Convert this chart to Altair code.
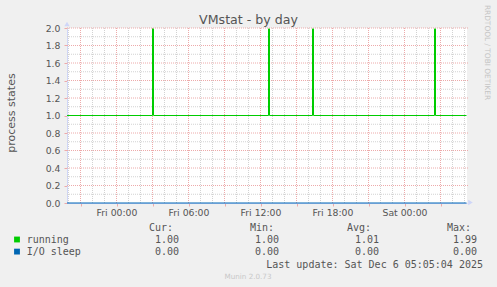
import altair as alt
import pandas as pd

# ---------------- data ----------------
# running processes: step series (value holds until the next time)
run_times = ["2025-12-04T19:52:30Z", "2025-12-05T03:00:00Z", "2025-12-05T03:05:00Z",
             "2025-12-05T12:40:00Z", "2025-12-05T12:45:00Z", "2025-12-05T16:20:00Z",
             "2025-12-05T16:25:00Z", "2025-12-06T02:30:00Z", "2025-12-06T02:35:00Z",
             "2025-12-06T05:10:00Z"]
run_values = [1.0, 1.99, 1.0, 1.99, 1.0, 1.99, 1.0, 1.99, 1.0, 1.0]
io_times = ["2025-12-04T19:52:30Z", "2025-12-06T05:10:00Z"]
io_values = [0.0, 0.0]

x_domain = ["2025-12-04T19:52:30Z", "2025-12-06T05:12:30Z"]
y_domain = [0.0, 2.0]
y_labels = [0.0, 0.2, 0.4, 0.6, 0.8, 1.0, 1.2, 1.4, 1.6, 1.8, 2.0]
y_major = [0.2, 0.4, 0.6, 0.8, 1.2, 1.4, 1.6, 1.8, 2.0]
y_minor = [0.1, 0.3, 0.5, 0.7, 0.9, 1.1, 1.3, 1.5, 1.7, 1.9]

legend_names = ["running", "I/O sleep"]
legend_colors = ["#00CC00", "#0066B3"]
cur_vals = ["1.00", "0.00"]
min_vals = ["1.00", "0.00"]
avg_vals = ["1.01", "0.00"]
max_vals = ["1.99", "0.00"]
headers = ["Cur:", "Min:", "Avg:", "Max:"]

title_text = "VMstat - by day"
y_title = "process states"
last_update = "Last update: Sat Dec  6 05:05:04 2025"
watermark = "RRDTOOL / TOBI OETIKER"
munin_text = "Munin 2.0.73"

# ---------------- helpers ----------------
def ms(t):
    return pd.Timestamp(t).value // 10**6

hours = pd.date_range("2025-12-04T20:00:00Z", "2025-12-06T05:00:00Z", freq="h")
x_major = [ms(h) for h in hours if h.hour % 3 == 0]
x_minor = [ms(h) for h in hours if h.hour % 3 != 0]

FONT = "#555555"
AXIS = "#CFD6F8"
MGRID = "#EDAAAA"
GRID = "#D2D2D2"
W, H = 400, 175

xscale = alt.Scale(type="utc", domain=[ms(t) for t in x_domain], nice=False)
yscale = alt.Scale(domain=y_domain, nice=False, zero=False)

x_axis = alt.Axis(
    values=x_major,
    labelExpr="utchours(datum.value) % 6 == 0 ? utcFormat(datum.value, '%a %H:%M') : ''",
    tickSize=3, tickColor=MGRID, domainColor=AXIS, labelFont="DejaVu Sans",
    labelFontSize=9.3, labelColor=FONT, labelPadding=2, grid=False, title=None,
    labelFlush=False, labelOverlap=False)
y_axis = alt.Axis(
    values=y_labels, format=".1f", tickSize=3, tickColor=MGRID, domainColor=AXIS,
    labelFont="DejaVu Sans", labelFontSize=9.3, labelColor=FONT, labelPadding=4,
    grid=False, title=None, labelOverlap=False, labelFlush=False)

dummy = pd.DataFrame({"d": [0]})


def txt(text, x, y, size=10, font="DejaVu Sans Mono", color=FONT, align="left",
        baseline="alphabetic", angle=0):
    kw = dict(text=text, fontSize=size, font=font, color=color, align=align,
              baseline=baseline)
    if angle:
        kw["angle"] = angle
    return alt.Chart(dummy).mark_text(**kw).encode(x=alt.value(x), y=alt.value(y))


layers = []

# grids
layers.append(alt.Chart(pd.DataFrame({"v": y_minor})).mark_rule(
    color=GRID, strokeWidth=1, strokeDash=[1, 1]).encode(
    y=alt.Y("v:Q", scale=yscale, axis=y_axis), x=alt.value(0), x2=alt.value(W)))
layers.append(alt.Chart(pd.DataFrame({"t": x_minor})).mark_rule(
    color=GRID, strokeWidth=1, strokeDash=[1, 1]).encode(
    x=alt.X("t:T", scale=xscale, axis=x_axis), y=alt.value(0), y2=alt.value(H)))
layers.append(alt.Chart(pd.DataFrame({"v": y_major})).mark_rule(
    color=MGRID, strokeWidth=1, strokeDash=[1, 1]).encode(
    y=alt.Y("v:Q", scale=yscale, axis=y_axis), x=alt.value(0), x2=alt.value(W + 2)))
layers.append(alt.Chart(pd.DataFrame({"t": x_major})).mark_rule(
    color=MGRID, strokeWidth=1, strokeDash=[1, 1]).encode(
    x=alt.X("t:T", scale=xscale, axis=x_axis), y=alt.value(0), y2=alt.value(H)))

# data lines
io_df = pd.DataFrame({"t": [ms(t) for t in io_times], "v": io_values})
run_df = pd.DataFrame({"t": [ms(t) for t in run_times], "v": run_values})

layers.append(alt.Chart(io_df).mark_line(color="#0066B3", strokeWidth=1,
                                         interpolate="step-after").encode(
    x=alt.X("t:T", scale=xscale, axis=x_axis), y=alt.Y("v:Q", scale=yscale, axis=y_axis)))
layers.append(alt.Chart(run_df).mark_line(color="#00CC00", strokeWidth=1,
                                          interpolate="step-after").encode(
    x=alt.X("t:T", scale=xscale, axis=x_axis), y=alt.Y("v:Q", scale=yscale, axis=y_axis)))

# arrows
layers.append(alt.Chart(dummy).mark_point(shape="triangle-up", filled=True, size=28,
                                          color=AXIS, opacity=1).encode(
    x=alt.value(0), y=alt.value(-4)))
layers.append(alt.Chart(dummy).mark_point(shape="triangle-right", filled=True, size=28,
                                          color=AXIS, opacity=1).encode(
    x=alt.value(W + 3.5), y=alt.value(H - 0.5)))

# texts
layers.append(txt(title_text, 181.5, -4, size=12.6, font="DejaVu Sans", align="center"))
layers.append(txt(y_title, -55.5, 85, size=11, font="DejaVu Sans", align="center",
                  baseline="middle", angle=270))
layers.append(txt(watermark, 419.5, 24.5, size=7.4, font="DejaVu Sans", color="#C4C4C4",
                  align="center", baseline="middle", angle=90))
layers.append(txt(munin_text, 181, 250.5, size=7.2, font="DejaVu Sans", color="#C8C8C8",
                  align="center"))

header_x = [82, 183, 280, 380]
value_x = [112, 212, 312, 410]
for hx, h in zip(header_x, headers):
    layers.append(txt(h, hx, 203))

row_y = [215.3, 227.4]
for i, name in enumerate(legend_names):
    yb = row_y[i]
    layers.append(alt.Chart(dummy).mark_square(size=34, color=legend_colors[i], opacity=1).encode(
        x=alt.value(-50), y=alt.value(yb - 3.8)))
    layers.append(txt(name, -40.3, yb))
    for vx, vals in zip(value_x, [cur_vals, min_vals, avg_vals, max_vals]):
        layers.append(txt(vals[i], vx, yb, align="right"))

layers.append(txt(last_update, 416, 239.6, align="right"))

chart = alt.layer(*layers).properties(
    width=W, height=H,
    padding={"left": 67, "top": 28, "right": 30, "bottom": 84},
    autosize=alt.AutoSizeParams(type="none"),
    background="#F0F0F0",
).configure_view(fill="white", stroke=None)

chart.save("out.html", embed_options={"renderer": "svg", "actions": False})
